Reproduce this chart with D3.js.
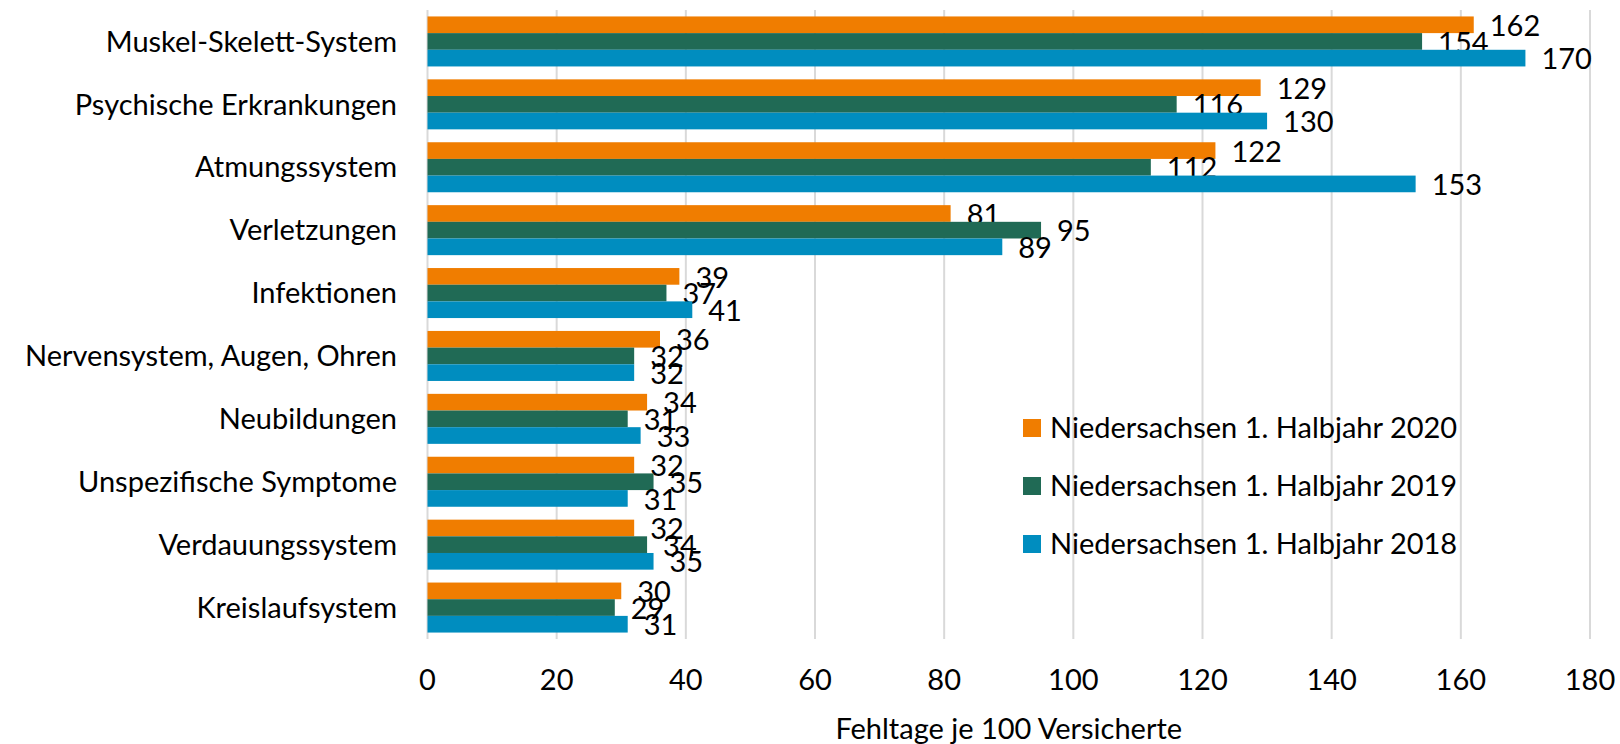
<!DOCTYPE html>
<html>
<head>
<meta charset="utf-8">
<script src="https://cdn.jsdelivr.net/npm/d3@7"></script>
<style>
    body { margin: 0; background: #fff; }
    svg text { font-family: Lato, "Open Sans", sans-serif; fill: #000; }
</style>
</head>
<body>
<svg id="chart" width="1620" height="744"></svg>
<script>
const categories = [
    "Muskel-Skelett-System", "Psychische Erkrankungen", "Atmungssystem", "Verletzungen",
    "Infektionen", "Nervensystem, Augen, Ohren", "Neubildungen", "Unspezifische Symptome",
    "Verdauungssystem", "Kreislaufsystem"
];
const series = [
    "Niedersachsen 1. Halbjahr 2020",
    "Niedersachsen 1. Halbjahr 2019",
    "Niedersachsen 1. Halbjahr 2018"
];
const values2020 = [162, 129, 122, 81, 39, 36, 34, 32, 32, 30];
const values2019 = [154, 116, 112, 95, 37, 32, 31, 35, 34, 29];
const values2018 = [170, 130, 153, 89, 41, 32, 33, 31, 35, 31];
const xTicks = [0, 20, 40, 60, 80, 100, 120, 140, 160, 180];
const colors = ["#f07d00", "#206a55", "#008dbf"];
const axisTitle = "Fehltage je 100 Versicherte";

const allValues = [values2020, values2019, values2018];
const fontSize = 29;
const svg = d3.select("#chart");

const x = d3.scaleLinear().domain([0, 180]).range([427.5, 1590]);
const y = d3.scaleBand().domain(categories).range([10, 639])
    .paddingInner(0.205).paddingOuter(0.1025);
const ySub = d3.scaleBand().domain(series).range([0, y.bandwidth()]);

// gridlines
svg.append("g")
    .selectAll("line")
    .data(xTicks)
    .enter().append("line")
    .attr("x1", d => x(d)).attr("x2", d => x(d))
    .attr("y1", 10).attr("y2", 639)
    .attr("stroke", "#d9d9d9")
    .attr("stroke-width", 2);

// bars + value labels
const groups = svg.append("g")
    .selectAll("g")
    .data(categories)
    .enter().append("g")
    .attr("transform", d => `translate(0,${y(d)})`);

groups.each(function(cat, i) {
    const g = d3.select(this);
    series.forEach((s, j) => {
        const v = allValues[j][i];
        g.append("rect")
            .attr("x", x(0))
            .attr("y", ySub(s))
            .attr("width", x(v) - x(0))
            .attr("height", ySub.bandwidth())
            .attr("fill", colors[j]);
        g.append("text")
            .attr("x", x(v) + 16)
            .attr("y", ySub(s) + ySub.bandwidth() / 2 + 1)
            .attr("dy", "0.35em")
            .attr("font-size", fontSize)
            .text(v);
    });
});

// category labels
svg.append("g")
    .selectAll("text")
    .data(categories)
    .enter().append("text")
    .attr("x", 397)
    .attr("y", d => y(d) + y.bandwidth() / 2)
    .attr("dy", "0.35em")
    .attr("text-anchor", "end")
    .attr("font-size", fontSize)
    .text(d => d);

// x tick labels
svg.append("g")
    .selectAll("text")
    .data(xTicks)
    .enter().append("text")
    .attr("x", d => x(d))
    .attr("y", 680)
    .attr("dy", "0.35em")
    .attr("text-anchor", "middle")
    .attr("font-size", fontSize)
    .text(d => d);

svg.append("text")
    .attr("x", (x(0) + x(180)) / 2)
    .attr("y", 729)
    .attr("dy", "0.35em")
    .attr("text-anchor", "middle")
    .attr("font-size", fontSize)
    .text(axisTitle);

// legend
const legend = svg.append("g")
    .selectAll("g")
    .data(series)
    .enter().append("g")
    .attr("transform", (d, i) => `translate(1023,${428 + i * 58})`);

legend.append("rect")
    .attr("x", 0).attr("y", -9)
    .attr("width", 18).attr("height", 18)
    .attr("fill", (d, i) => colors[i]);

legend.append("text")
    .attr("x", 27)
    .attr("dy", "0.35em")
    .attr("font-size", fontSize)
    .text(d => d);
</script>
</body>
</html>
